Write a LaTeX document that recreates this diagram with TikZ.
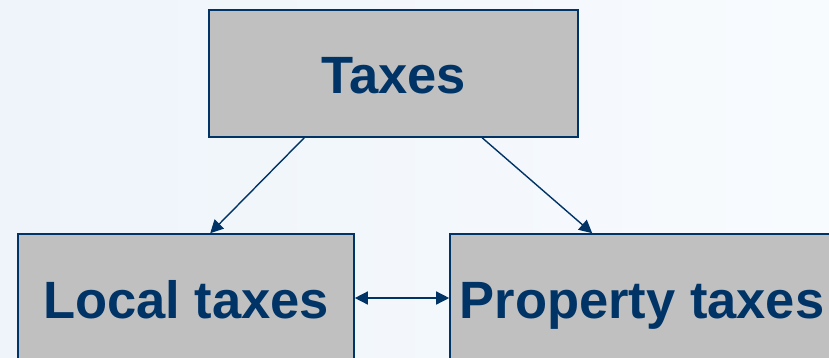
\documentclass[tikz,border=0pt]{standalone}
\usepackage{fontspec}
\setmainfont{Liberation Sans}
\usetikzlibrary{arrows.meta}
\definecolor{navy}{RGB}{0,51,102}
\definecolor{boxgray}{RGB}{192,192,192}
\definecolor{bgA}{RGB}{238,244,250}
\definecolor{bgB}{RGB}{248,251,254}
\begin{document}
\begin{tikzpicture}[x=1pt,y=-1pt,
  box/.style={draw=navy, fill=boxgray, line width=1.6pt, inner sep=0pt,
    text height=50pt, text depth=10pt,
    font=\fontsize{52.5}{60}\selectfont\bfseries, text=navy},
  conn/.style={draw=navy, line width=1.4pt},
  tip/.style={-{Triangle[length=13pt,width=13pt]}}
]
\useasboundingbox (0,0) rectangle (829,357);
\shade[left color=bgA, right color=bgB] (0,0) rectangle (829,357);
\begin{scope}
\clip (0,0) rectangle (829,357);
\node[box, minimum width=369pt, minimum height=127pt] (taxes) at (393.5,73.5) {Taxes};
\node[box, minimum width=336pt, minimum height=128pt] (local) at (186,298) {Local taxes};
\node[box, minimum width=384pt, minimum height=128pt] (prop) at (642,298) {Property taxes};
\end{scope}
\path (taxes.south west) ++(96,0) coordinate (t1);
\path (taxes.south west) ++(274,0) coordinate (t2);
\path (local.north west) ++(193,0) coordinate (l1);
\path (prop.north west) ++(143,0) coordinate (p1);
\draw[conn, tip] (t1) -- (l1);
\draw[conn, tip] (t2) -- (p1);
\draw[conn, {Triangle[length=13pt,width=13pt]}-{Triangle[length=13pt,width=13pt]}] (local.east) -- (prop.west |- local.east);
\end{tikzpicture}
\end{document}
